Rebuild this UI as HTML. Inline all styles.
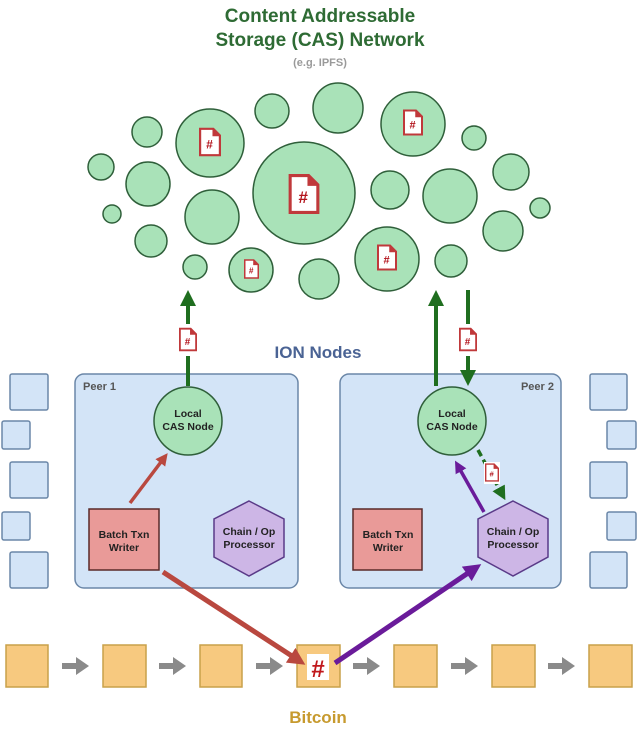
<!DOCTYPE html>
<html><head><meta charset="utf-8"><style>html,body{margin:0;padding:0;background:#fff}svg{display:block}text{font-family:"Liberation Sans",sans-serif;font-weight:bold}</style></head>
<body>
<svg width="640" height="736" viewBox="0 0 640 736" xmlns="http://www.w3.org/2000/svg">
<defs>
<symbol id="doc" viewBox="0 0 20 26">
<path d="M1 1 H13 L19 7 V25 H1 Z" fill="#fff" stroke="#c0393b" stroke-width="2"/>
<path d="M13 1 V7 H19" fill="#c0393b" stroke="#c0393b" stroke-width="1.5"/>
<text x="9.5" y="19" font-size="11" fill="#b3141c" text-anchor="middle">#</text>
</symbol>
<marker id="ag" viewBox="0 0 10 10" refX="5" refY="5" markerWidth="4" markerHeight="4" orient="auto"><path d="M0 0 L10 5 L0 10 Z" fill="#1f6e1f"/></marker>
<marker id="ar" viewBox="0 0 10 10" refX="5" refY="5" markerWidth="3.5" markerHeight="3.5" orient="auto"><path d="M0 0 L10 5 L0 10 Z" fill="#b9483f"/></marker>
<marker id="ap" viewBox="0 0 10 10" refX="5" refY="5" markerWidth="3.5" markerHeight="3.5" orient="auto"><path d="M0 0 L10 5 L0 10 Z" fill="#6a1b9a"/></marker>
</defs>

<text x="320" y="22" font-size="19" fill="#2e6b34" text-anchor="middle">Content Addressable</text>
<text x="320" y="46" font-size="19" fill="#2e6b34" text-anchor="middle">Storage (CAS) Network</text>
<text x="320" y="66" font-size="11" fill="#9a9a9a" text-anchor="middle" font-weight="normal">(e.g. IPFS)</text>

<g fill="#a9e2b8" stroke="#2f5f3a" stroke-width="1.5">
<circle cx="147" cy="132" r="15"/><circle cx="210" cy="143" r="34"/><circle cx="272" cy="111" r="17"/>
<circle cx="338" cy="108" r="25"/><circle cx="413" cy="124" r="32"/><circle cx="474" cy="138" r="12"/>
<circle cx="101" cy="167" r="13"/><circle cx="148" cy="184" r="22"/><circle cx="304" cy="193" r="51"/>
<circle cx="390" cy="190" r="19"/><circle cx="450" cy="196" r="27"/><circle cx="511" cy="172" r="18"/>
<circle cx="112" cy="214" r="9"/><circle cx="212" cy="217" r="27"/><circle cx="540" cy="208" r="10"/>
<circle cx="503" cy="231" r="20"/><circle cx="151" cy="241" r="16"/><circle cx="195" cy="267" r="12"/>
<circle cx="251" cy="270" r="22"/><circle cx="319" cy="279" r="20"/><circle cx="387" cy="259" r="32"/>
<circle cx="451" cy="261" r="16"/>
</g>
<use href="#doc" x="199" y="127" width="22" height="30"/>
<use href="#doc" x="403" y="109" width="20" height="27"/>
<use href="#doc" x="288" y="174" width="32" height="40"/>
<use href="#doc" x="244" y="259" width="15" height="20"/>
<use href="#doc" x="377" y="244" width="20" height="27"/>

<!-- side squares -->
<g fill="#d3e4f7" stroke="#6b87a8" stroke-width="1.5">
<rect x="10" y="374" width="38" height="36" rx="2"/><rect x="2" y="421" width="28" height="28" rx="2"/>
<rect x="10" y="462" width="38" height="36" rx="2"/><rect x="2" y="512" width="28" height="28" rx="2"/>
<rect x="10" y="552" width="38" height="36" rx="2"/>
<rect x="590" y="374" width="37" height="36" rx="2"/><rect x="607" y="421" width="29" height="28" rx="2"/>
<rect x="590" y="462" width="37" height="36" rx="2"/><rect x="607" y="512" width="29" height="28" rx="2"/>
<rect x="590" y="552" width="37" height="36" rx="2"/>
</g>
<text x="318" y="358" font-size="17" fill="#4a6394" text-anchor="middle">ION Nodes</text>

<!-- peers -->
<rect x="75" y="374" width="223" height="214" rx="9" fill="#d3e4f7" stroke="#6b87a8" stroke-width="1.5"/>
<rect x="340" y="374" width="221" height="214" rx="9" fill="#d3e4f7" stroke="#6b87a8" stroke-width="1.5"/>
<text x="83" y="390" font-size="11" fill="#555">Peer 1</text>
<text x="554" y="390" font-size="11" fill="#555" text-anchor="end">Peer 2</text>

<!-- green arrows top -->
<line x1="188" y1="386" x2="188" y2="298" stroke="#1f6e1f" stroke-width="4" marker-end="url(#ag)"/>
<line x1="436" y1="386" x2="436" y2="298" stroke="#1f6e1f" stroke-width="4" marker-end="url(#ag)"/>
<line x1="468" y1="290" x2="468" y2="378" stroke="#1f6e1f" stroke-width="4" marker-end="url(#ag)"/>
<rect x="178" y="324" width="20" height="32" fill="#fff"/>
<use href="#doc" x="179" y="326" width="18" height="27"/>
<rect x="458" y="324" width="20" height="32" fill="#fff"/>
<use href="#doc" x="459" y="326" width="18" height="27"/>

<ellipse cx="188" cy="421" rx="34" ry="34" fill="#a9e2b8" stroke="#2f5f3a" stroke-width="1.5"/>
<ellipse cx="452" cy="421" rx="34" ry="34" fill="#a9e2b8" stroke="#2f5f3a" stroke-width="1.5"/>
<g font-size="10.5" fill="#222" text-anchor="middle">
<text x="188" y="417">Local</text><text x="188" y="430">CAS Node</text>
<text x="452" y="417">Local</text><text x="452" y="430">CAS Node</text>
</g>

<rect x="89" y="509" width="70" height="61" fill="#e99a98" stroke="#5a2a28" stroke-width="1.5"/>
<rect x="353" y="509" width="69" height="61" fill="#e99a98" stroke="#5a2a28" stroke-width="1.5"/>
<g font-size="10.5" fill="#222" text-anchor="middle">
<text x="124" y="538">Batch Txn</text><text x="124" y="551">Writer</text>
<text x="388" y="538">Batch Txn</text><text x="388" y="551">Writer</text>
</g>
<polygon points="249,501 284,519 284,557 249,576 214,557 214,519" fill="#cdb6e6" stroke="#5a3a88" stroke-width="1.5"/>
<polygon points="513,501 548,519 548,557 513,576 478,557 478,519" fill="#cdb6e6" stroke="#5a3a88" stroke-width="1.5"/>
<g font-size="10.5" fill="#222" text-anchor="middle">
<text x="249" y="535">Chain / Op</text><text x="249" y="548">Processor</text>
<text x="513" y="535">Chain / Op</text><text x="513" y="548">Processor</text>
</g>

<!-- inner arrows -->
<line x1="130" y1="503" x2="164" y2="458" stroke="#b9483f" stroke-width="3.5" marker-end="url(#ar)"/>
<line x1="484" y1="512" x2="458" y2="466" stroke="#6a1b9a" stroke-width="3.5" marker-end="url(#ap)"/>
<line x1="478" y1="450" x2="502" y2="494" stroke="#1f6e1f" stroke-width="3.5" stroke-dasharray="7,4" marker-end="url(#ag)"/>
<rect x="484" y="462" width="16" height="22" fill="#fff"/>
<use href="#doc" x="485" y="463" width="14" height="19"/>

<!-- bitcoin -->
<g fill="#f7c97f" stroke="#c9a14a" stroke-width="1.5">
<rect x="6" y="645" width="42" height="42"/><rect x="103" y="645" width="43" height="42"/>
<rect x="200" y="645" width="42" height="42"/><rect x="297" y="645" width="43" height="42"/>
<rect x="394" y="645" width="43" height="42"/><rect x="492" y="645" width="43" height="42"/>
<rect x="589" y="645" width="43" height="42"/>
</g>
<g fill="#8a8a8a">
<path d="M62 663 H76 V657 L89 666 L76 675 V669 H62 Z"/>
<path d="M159 663 H173 V657 L186 666 L173 675 V669 H159 Z"/>
<path d="M256 663 H270 V657 L283 666 L270 675 V669 H256 Z"/>
<path d="M353 663 H367 V657 L380 666 L367 675 V669 H353 Z"/>
<path d="M451 663 H465 V657 L478 666 L465 675 V669 H451 Z"/>
<path d="M548 663 H562 V657 L575 666 L562 675 V669 H548 Z"/>
</g>
<rect x="307" y="654" width="22" height="26" fill="#fff"/>
<text x="318" y="677" font-size="24" fill="#c0181c" text-anchor="middle">#</text>

<line x1="163" y1="572" x2="298" y2="660" stroke="#b9483f" stroke-width="5" marker-end="url(#ar)"/>
<line x1="335" y1="663" x2="474" y2="569" stroke="#6a1b9a" stroke-width="5" marker-end="url(#ap)"/>

<text x="318" y="723" font-size="17" fill="#c79a2e" text-anchor="middle">Bitcoin</text>
</svg>
</body></html>
